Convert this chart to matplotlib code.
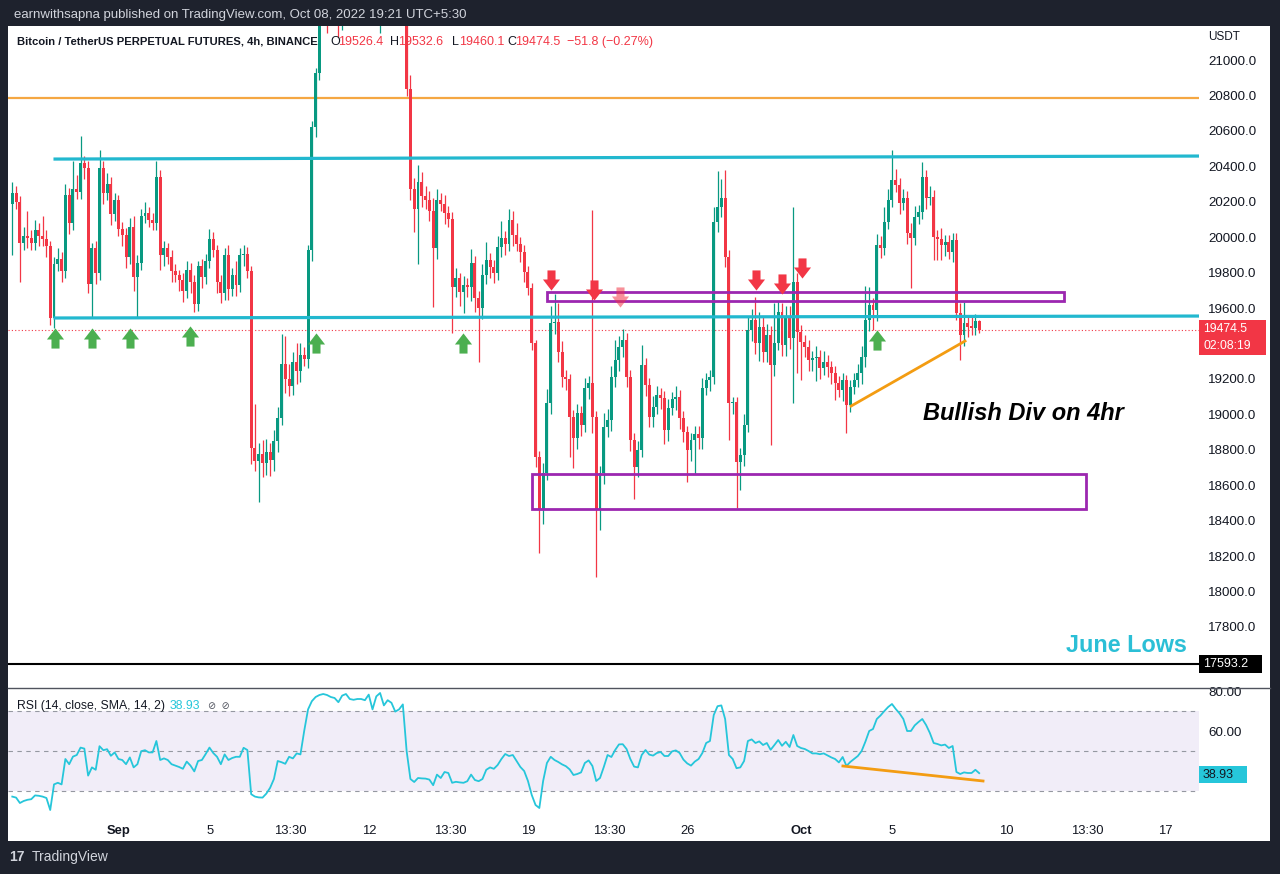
import numpy as np
import matplotlib
matplotlib.use('Agg')
import matplotlib.pyplot as plt
from matplotlib.patches import Rectangle
from matplotlib.path import Path
from matplotlib.lines import Line2D

plt.rcParams['font.family'] = ['Liberation Sans', 'DejaVu Sans']

# ---------------- data ----------------
# 4h candles, x in days from 1 Sep 2022 00:00
start_day = -4.69
first_open = 20190.0
closes = [
    20250, 20200, 19968, 20008, 19998, 19968, 20038, 20008, 19992, 19948,
    19545, 19847, 19877, 19807, 20240, 20079, 20270, 20256, 20421, 20391,
    19736, 19938, 19797, 20391, 20250, 20300, 20129, 20210, 20048, 20012,
    19887, 20059, 19776, 19857, 20119, 20139, 20099, 20079, 20341, 19897,
    19938, 19887, 19807, 19786, 19756, 19696, 19817, 19746, 19625, 19837,
    19776, 19867, 19988, 19928, 19746, 19686, 19897, 19706, 19786, 19730,
    19897, 19907, 19807, 18809, 18738, 18778, 18728, 18789, 18740, 18849,
    18980, 19283, 19202, 19162, 19293, 19242, 19333, 19313, 19928, 20623,
    20925, 21300, 21350, 21280, 21350, 21420, 21330, 21400, 21550, 21600,
    21700, 21650, 21750, 21700, 21600, 21500, 21420, 21600, 21900, 22100,
    22250, 22350, 22400, 22300, 20836, 20272, 20159, 20310, 20230, 20210,
    20150, 19937, 20210, 20190, 20135, 20100, 19721, 19767, 19692, 19730,
    19720, 19852, 19655, 19598, 19787, 19871, 19830, 19800, 19946, 19993,
    19960, 20097, 20010, 19960, 19918, 19805, 19711, 19401, 18761, 18460,
    18667, 19062, 19514, 19520, 19354, 19212, 19200, 18987, 18865, 19006,
    18940, 19147, 19175, 18987, 18460, 18667, 18930, 18968, 19213, 19307,
    19382, 19420, 19213, 18855, 18705, 18799, 19279, 19166, 18987, 19043,
    19109, 19090, 18912, 19034, 19085, 19100, 18978, 18903, 18799, 18855,
    18892, 18865, 19147, 19194, 19213, 20088, 20172, 20219, 19890, 19062,
    19070, 18733, 18771, 18940, 19476, 19532, 19401, 19495, 19354, 19448,
    19279, 19401, 19580, 19391, 19551, 19429, 19749, 19467, 19410, 19382,
    19307, 19320, 19326, 19260, 19297, 19269, 19232, 19175, 19138, 19194,
    19053, 19156, 19194, 19232, 19326, 19533, 19617, 19589, 19956, 19940,
    20088, 20210, 20323, 20295, 20191, 20220, 20022, 19994, 20116, 20144,
    20342, 20219, 20228, 20003, 19990, 19956, 19975, 19918, 19984, 19570,
    19448, 19514, 19495, 19490, 19526.4, 19474.5,
]
upper_wick = [
    60, 40, 30, 50, 140, 40, 60, 40, 110, 50,
    30, 40, 60, 40, 60, 40, 160, 80, 150, 40,
    40, 30, 40, 100, 40, 60, 40, 40, 30, 40,
    40, 50, 60, 40, 40, 60, 30, 40, 90, 40,
    40, 30, 40, 40, 30, 40, 50, 40, 40, 30,
    40, 40, 60, 40, 30, 40, 40, 60, 40, 80,
    40, 50, 40, 30, 250, 60, 80, 70, 50, 60,
    60, 170, 160, 80, 60, 110, 70, 50, 30, 30,
    30, 40, 80, 60, 70, 80, 50, 100, 80, 60,
    70, 60, 80, 90, 60, 120, 60, 80, 70, 60,
    80, 60, 100, 70, 40, 80, 60, 100, 60, 60,
    50, 70, 60, 40, 50, 40, 40, 60, 30, 50,
    40, 80, 40, 40, 60, 100, 40, 40, 60, 100,
    40, 60, 50, 70, 40, 40, 30, 30, 20, 30,
    60, 80, 100, 160, 110, 60, 40, 30, 40, 50,
    40, 60, 40, 980, 30, 40, 80, 60, 60, 110,
    60, 60, 40, 40, 40, 50, 110, 40, 40, 60,
    50, 40, 40, 50, 40, 60, 40, 40, 30, 40,
    40, 40, 60, 40, 40, 80, 200, 110, 160, 40,
    30, 30, 40, 60, 80, 60, 130, 80, 60, 60,
    50, 230, 60, 50, 60, 60, 420, 50, 40, 40,
    40, 40, 60, 40, 60, 40, 30, 40, 40, 40,
    30, 40, 40, 50, 60, 190, 100, 40, 60, 50,
    80, 60, 170, 60, 40, 50, 40, 60, 60, 40,
    80, 40, 60, 40, 40, 60, 40, 40, 40, 40,
    60, 120, 40, 60, 40, 6.2,
]
lower_wick = [
    290, 40, 220, 40, 60, 40, 40, 60, 40, 60,
    40, 60, 40, 60, 40, 60, 40, 40, 40, 60,
    50, 190, 60, 40, 60, 40, 60, 40, 40, 60,
    60, 40, 80, 230, 40, 40, 40, 40, 40, 80,
    60, 40, 60, 40, 60, 60, 40, 60, 50, 40,
    60, 40, 40, 40, 60, 60, 40, 60, 40, 60,
    40, 60, 40, 90, 60, 230, 80, 70, 90, 60,
    60, 40, 80, 60, 50, 70, 60, 40, 50, 60,
    60, 40, 80, 130, 60, 80, 200, 160, 100, 80,
    100, 80, 100, 80, 100, 90, 200, 270, 80, 100,
    100, 80, 80, 100, 40, 60, 130, 310, 60, 50,
    60, 330, 60, 40, 60, 40, 264, 60, 80, 120,
    60, 80, 80, 300, 60, 50, 60, 60, 40, 60,
    60, 40, 60, 40, 60, 60, 40, 40, 60, 244,
    80, 40, 60, 60, 60, 60, 60, 226, 170, 60,
    60, 40, 60, 90, 376, 113, 60, 60, 60, 60,
    60, 60, 60, 60, 180, 60, 40, 60, 60, 60,
    40, 60, 80, 60, 40, 60, 60, 60, 180, 60,
    190, 60, 60, 40, 60, 40, 60, 60, 60, 207,
    60, 263, 160, 60, 40, 60, 60, 100, 60, 60,
    452, 60, 40, 60, 60, 60, 367, 235, 216, 60,
    60, 60, 130, 60, 40, 60, 60, 94, 40, 60,
    160, 40, 40, 40, 60, 60, 60, 113, 60, 60,
    40, 40, 40, 40, 60, 40, 60, 283, 40, 40,
    40, 60, 40, 132, 119, 85, 60, 40, 60, 40,
    141, 60, 60, 40, 40, 14.4,
]
rsi = [
    27.2, 26.7, 24, 25, 25.6, 25.9, 27.8, 27.6, 27.2, 26.5,
    20.5, 33.3, 34.1, 33.3, 46, 43.4, 47.2, 48, 51.7, 51.2,
    37.7, 41.8, 40.6, 52.4, 50.4, 50.9, 47.6, 49.3, 46, 45.5,
    43.4, 46.8, 41.8, 43.4, 49.9, 50.4, 49.3, 49.3, 55, 45.5,
    46.3, 45.5, 43.4, 42.7, 42, 41.1, 44.7, 42.7, 39.8, 45,
    45.5, 48.5, 51.7, 49, 47.1, 43.4, 48.3, 45.5, 46.5, 47.1,
    47.1, 51.6, 50.5, 28.4, 27.2, 26.8, 26.7, 28.7, 31.6, 36,
    45, 44.4, 43.6, 47.1, 46.3, 48.8, 48.3, 60.2, 70.8, 74.9,
    77, 78, 78.5, 78, 77, 76.5, 74.4, 77.7, 78.5, 76,
    75.6, 76, 76, 75.4, 78.2, 70.8, 77.3, 79, 72.8, 75.4,
    74.1, 69.7, 70.8, 73.3, 50, 36, 34.5, 36.5, 36.3, 36.2,
    35.7, 32.9, 38.2, 36.5, 39.5, 39, 34.1, 34.6, 34.3, 34.1,
    34.9, 38.2, 35.5, 34.9, 36, 40.6, 41.8, 41.1, 43, 46,
    48.5, 47.5, 48, 45, 42, 40, 35, 28, 23, 21.5,
    35, 44, 47.1, 45.5, 44.5, 43.3, 42.4, 40.8, 38, 38.5,
    39.3, 44, 45.3, 42.5, 35, 36.5, 42, 48, 47, 50.5,
    53.3, 53.4, 51, 46, 42.2, 41.8, 48, 50.5, 48.2, 47.7,
    49, 49.5, 47.5, 47.5, 49.8, 50.3, 49, 45.7, 43.8, 42.7,
    44.7, 46, 49, 54, 55, 68, 72.4, 72.8, 66, 48,
    46, 41.4, 41.8, 45, 55, 55.8, 54, 54.8, 53, 54,
    50.6, 53, 55.5, 52.6, 54.6, 52, 58, 52.5, 51.5, 51,
    50, 48.8, 48.8, 48.4, 48.8, 47.8, 46.8, 46, 44.3, 47,
    42.5, 44.5, 46, 47.5, 50, 54.7, 60, 61, 66, 67.8,
    70, 72, 73.5, 71, 68.8, 66, 60, 60, 62.8, 64.5,
    66, 63, 59, 54, 53.5, 52.8, 53.2, 51.5, 52.5, 39.5,
    38.5, 39.3, 39, 39, 40.6, 38.93,
]

# 19400 is hidden behind the last-price badge in the reference
price_ticks = [17800, 18000, 18200, 18400, 18600, 18800, 19000, 19200,
               19600, 19800, 20000, 20200, 20400, 20600, 20800, 21000]
time_ticks = [0, 4, 7.55, 11, 14.55, 18, 21.55, 25, 30, 34, 39, 42.55, 46]
time_labels = ['Sep', '5', '13:30', '12', '13:30', '19', '13:30', '26',
               'Oct', '5', '10', '13:30', '17']

# drawings
cyan_top = ([-2.81, 47.47], [20441, 20458])
cyan_low = ([-2.81, 47.47], [19544, 19555])
orange_level = 20788
june_low = 17593.2
last_price = 19474.5
zone_upper = (18.81, 41.54, 19640, 19690)
zone_lower = (18.15, 42.50, 18465, 18665)
div_price_x, div_price_y = [32.18, 37.19], [19047, 19414]
div_rsi_x, div_rsi_y = [31.82, 37.98], [42.5, 35.0]
up_arrow_x = [-2.81, -1.19, 0.48, 3.12, 8.66, 15.12, 33.32]
up_arrow_y = [19431, 19431, 19431, 19442, 19403, 19403, 19420]
down_arrow_x = [18.99, 20.88, 22.02, 28.0, 29.14, 30.02]
down_arrow_y = [19758, 19702, 19662, 19758, 19736, 19826]

# ---------------- figure ----------------
W, H = 1280, 874
def fx(px):
    return px / W
def fy(py):
    return 1 - py / H

UP, DOWN = '#089981', '#f23645'
CYAN, PURPLE, ORANGE = '#22b8cf', '#9c27b0', '#f5a742'
DARK = '#131722'

fig = plt.figure(figsize=(12.8, 8.74), dpi=100, facecolor='#1e222d')
fig.patches.append(Rectangle((fx(8), fy(841)), fx(1270) - fx(8), (841 - 26) / H,
                             transform=fig.transFigure, fc='white', ec='none', zorder=-5))

xlim = (-4.879, 47.473)
ax = fig.add_axes([fx(8), fy(688), fx(1199) - fx(8), (688 - 26) / H])
rax = fig.add_axes([fx(8), fy(815), fx(1199) - fx(8), (815 - 688) / H])
for a in (ax, rax):
    a.set_facecolor('white')
    a.set_zorder(2)
    for s in a.spines.values():
        s.set_visible(False)
    a.set_xlim(*xlim)

# candles
c = np.array(closes, dtype=float)
o = np.r_[first_open, c[:-1]]
t = start_day + np.arange(len(c)) / 6
hi = np.maximum(o, c) + np.array(upper_wick)
lo = np.minimum(o, c) - np.array(lower_wick)
cols = np.where(c >= o, UP, DOWN)
ax.vlines(t, lo, hi, colors=cols, lw=0.9, zorder=3)
ax.bar(t, np.maximum(np.abs(c - o), 6), bottom=np.minimum(o, c), width=0.13,
       color=cols, linewidth=0, zorder=4)

ax.set_ylim(17455.6, 21192)
ax.set_xticks([])
ax.yaxis.tick_right()
ax.set_yticks(price_ticks)
ax.set_yticklabels([f'{v:.1f}' for v in price_ticks])
ax.tick_params(axis='y', length=0, pad=6.5, labelsize=9.6, labelcolor=DARK)

# levels and zones
ax.axhline(orange_level, color=ORANGE, lw=1.6, zorder=2)
ax.plot(*cyan_top, color=CYAN, lw=2.3, zorder=5)
ax.plot(*cyan_low, color=CYAN, lw=2.3, zorder=5)
ax.axhline(june_low, color='black', lw=1.5, zorder=2)
ax.axhline(last_price, color=DOWN, lw=0.8, ls=(0, (1, 2)), zorder=2)
for x0, x1, y0, y1 in (zone_upper, zone_lower):
    ax.add_patch(Rectangle((x0, y0), x1 - x0, y1 - y0, fill=False, ec=PURPLE,
                           lw=2.0, zorder=5))
ax.plot(div_price_x, div_price_y, color='#f39c12', lw=2, zorder=6)

# arrows as path markers
up_path = Path([(0, 1), (0.85, -0.1), (0.4, -0.1), (0.4, -1), (-0.4, -1),
                (-0.4, -0.1), (-0.85, -0.1), (0, 1)])
down_path = Path([(x, -y) for x, y in up_path.vertices])
ax.plot(up_arrow_x, up_arrow_y, ls='none', marker=up_path, ms=14.5,
        mfc='#4caf50', mec='none', zorder=7)
for i, (x, y) in enumerate(zip(down_arrow_x, down_arrow_y)):
    ax.plot(x, y, ls='none', marker=down_path, ms=14.5, mfc=DOWN, mec='none',
            alpha=0.55 if i == 2 else 1.0, zorder=7)

ax.text(35.34, 19004, 'Bullish Div on 4hr', fontsize=17, fontweight='bold',
        fontstyle='italic', color='black', va='center', ha='left', zorder=8)
ax.text(46.95, 17693, 'June Lows', fontsize=16.8, fontweight='bold',
        color='#2bbfd6', va='center', ha='right', zorder=8)

# RSI panel
rax.axhspan(30, 70, color='#7e57c2', alpha=0.1, lw=0, zorder=1)
for lvl in (70, 50, 30):
    rax.axhline(lvl, color='#9598a1', lw=0.8, ls=(0, (4, 4)), zorder=2)
rax.plot(t, rsi, color='#26c6da', lw=1.3, zorder=3)
rax.plot(div_rsi_x, div_rsi_y, color='#f39c12', lw=2, zorder=4)
rax.set_ylim(18, 81.5)
rax.yaxis.tick_right()
rax.set_yticks([60, 80])
rax.set_yticklabels(['60.00', '80.00'])
rax.tick_params(axis='y', length=0, pad=6.5, labelsize=9.6, labelcolor=DARK)
rax.set_xticks(time_ticks)
rax.set_xticklabels(time_labels)
rax.tick_params(axis='x', length=0, pad=7, labelsize=9.4, labelcolor=DARK)
for lab in rax.get_xticklabels():
    if lab.get_text() in ('Sep', 'Oct'):
        lab.set_fontweight('bold')

# panel separator
fig.add_artist(Line2D([fx(8), fx(1270)], [fy(688), fy(688)], color='#50535e', lw=1, zorder=6))

# header and legends
fig.text(fx(14), fy(15), 'earnwithsapna published on TradingView.com, Oct 08, 2022 19:21 UTC+5:30',
         color='#d1d4dc', fontsize=9.5, va='center')
fig.text(fx(17), fy(42), 'Bitcoin / TetherUS PERPETUAL FUTURES, 4h, BINANCE',
         color=DARK, fontsize=8.1, fontweight='bold', va='center', zorder=9)
for px, s, col in [(330, 'O', DARK), (338, '19526.4', DOWN), (390, 'H', DARK),
                   (398, '19532.6', DOWN), (452, 'L', DARK), (459, '19460.1', DOWN),
                   (507, 'C', DARK), (515, '19474.5', DOWN),
                   (567, '\u221251.8 (\u22120.27%)', DOWN)]:
    fig.text(fx(px), fy(42), s, color=col, fontsize=9, va='center', zorder=9)
fig.text(fx(1208), fy(37), 'USDT', color=DARK, fontsize=8.5, va='center', zorder=9)

fig.text(fx(17), fy(706), 'RSI (14, close, SMA, 14, 2)', color=DARK, fontsize=8.8,
         va='center', zorder=9)
fig.text(fx(170), fy(706), '38.93', color='#26c6da', fontsize=8.8, va='center', zorder=9)
fig.text(fx(208), fy(706), '\u2298  \u2298', color='#50535e', fontsize=7, va='center', zorder=9)

# price badges
def badge(x0, y0, x1, y1, fc, lines, tc, size=9):
    fig.add_artist(Rectangle((fx(x0), fy(y1)), fx(x1) - fx(x0), (y1 - y0) / H,
                             transform=fig.transFigure, fc=fc, ec='none', zorder=10))
    n = len(lines)
    step = (y1 - y0) / n
    for k, s in enumerate(lines):
        fig.text(fx(x0 + 4), fy(y0 + step * (k + 0.5)), s, color=tc, fontsize=size,
                 va='center', ha='left', zorder=11)

badge(1199, 320, 1266, 355, DOWN, ['19474.5', '02:08:19'], 'white', size=8.8)
badge(1199, 655, 1262, 673, 'black', ['17593.2'], 'white')
badge(1199, 766, 1247, 783, '#26c6da', ['38.93'], DARK)

# footer logo
fig.text(fx(9), fy(857), '17', color='#d1d4dc', fontsize=10, fontweight='bold', va='center')
fig.text(fx(32), fy(857), 'TradingView', color='#d1d4dc', fontsize=10, va='center')

fig.savefig('out.png', dpi=100, facecolor=fig.get_facecolor())
